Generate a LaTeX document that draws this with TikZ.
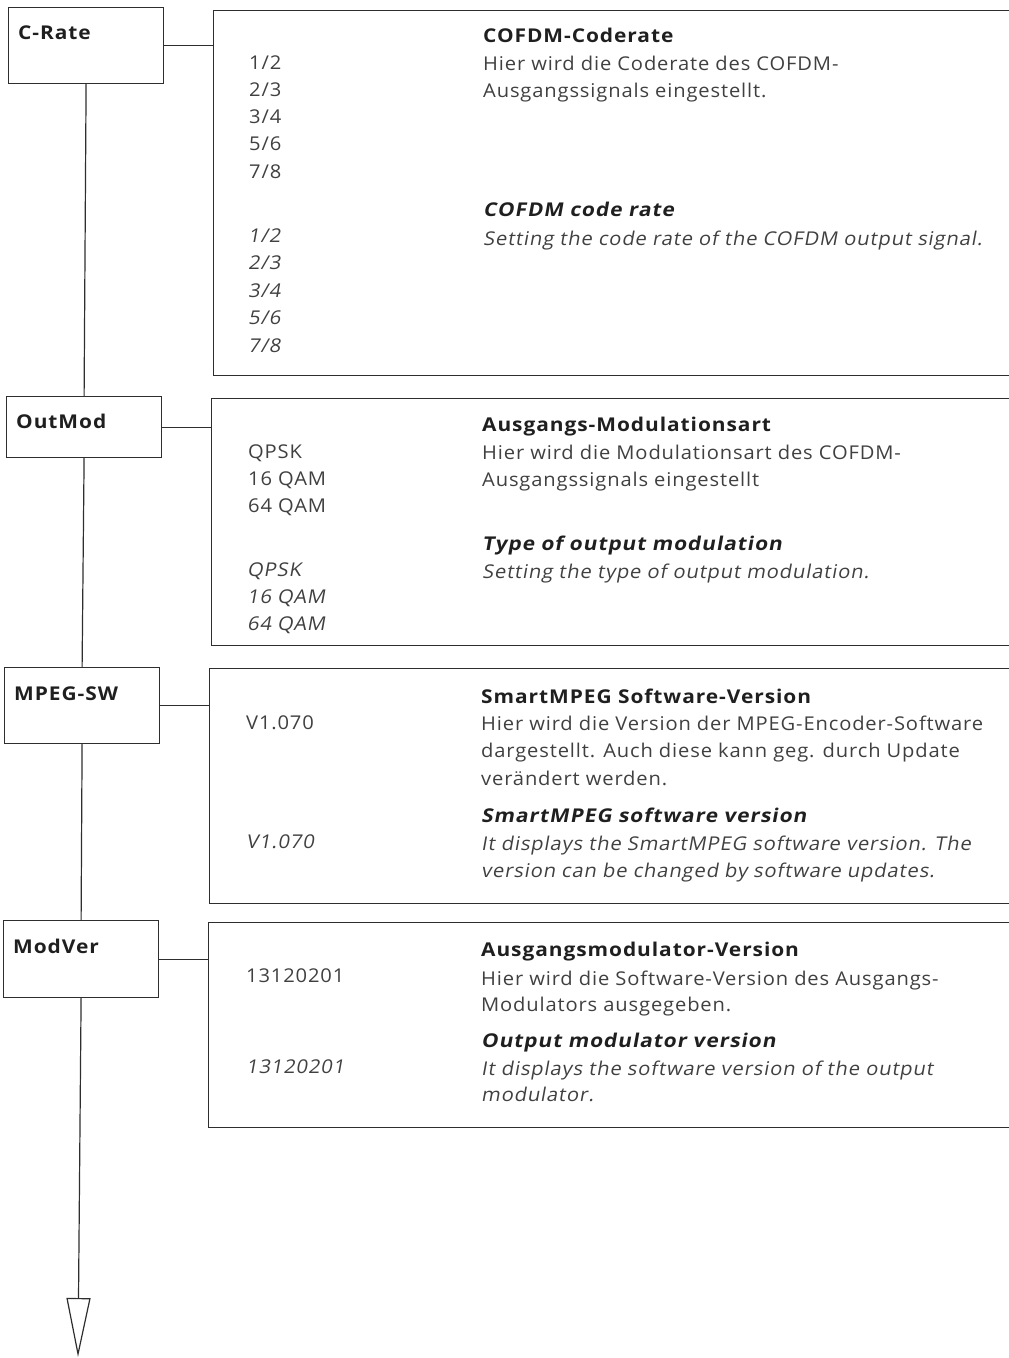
\documentclass[tikz,border=0pt]{standalone}
\usepackage{fontspec}
\setmainfont{Open Sans}[
  FakeStretch=1.06,
  LetterSpace=4.5,
  BoldFeatures={FakeStretch=1.1, LetterSpace=5},
  ItalicFont={Open Sans},
  ItalicFeatures={FakeSlant=0.18},
  BoldItalicFont={Open Sans Bold},
  BoldItalicFeatures={FakeSlant=0.18, FakeStretch=1.1, LetterSpace=5}]
\usetikzlibrary{arrows.meta}
\begin{document}
\begin{tikzpicture}[x=1pt,y=-1pt,
  frame/.style={draw=black!82, line width=1.2pt},
  lbox/.style={frame, anchor=north west, inner sep=0pt, minimum width=155pt},
  rbox/.style={frame, anchor=north west, inner sep=0pt, minimum width=830pt},
  link/.style={draw=black!82, line width=1.2pt},
  txt/.style={anchor=base west, inner sep=0pt, text=black!75, font=\fontsize{19}{23}\selectfont},
  val/.style={txt},
  ival/.style={txt, font=\fontsize{19}{23}\selectfont\itshape},
  ttl/.style={txt, text=black!88, font=\fontsize{19}{23}\selectfont\bfseries},
  ittl/.style={txt, text=black!88, font=\fontsize{19}{23}\selectfont\bfseries\itshape},
  itxt/.style={txt, font=\fontsize{19}{23}\selectfont\itshape},
  lbl/.style={txt, text=black!88, font=\fontsize{19}{23}\selectfont\bfseries},
]
\useasboundingbox (0,0) rectangle (1009,1358);

% ---- menu entries on the left ----
\node[lbox, minimum height=76pt] (crate)  at (8,7)   {};
\node[lbox, minimum height=61pt] (outmod) at (6,396) {};
\node[lbox, minimum height=76pt] (mpegsw) at (4,667) {};
\node[lbox, minimum height=77pt] (modver) at (3,920) {};
\node[lbl] (crate-t)  at (18,39)  {C-Rate};
\node[lbl] (outmod-t) at (16,428) {OutMod};
\node[lbl] (mpegsw-t) at (14,700) {MPEG-SW};
\node[lbl] (modver-t) at (13,953) {ModVer};

% ---- description panels on the right ----
\node[rbox, minimum height=365pt] (p1) at (213,10)  {};
\node[rbox, minimum height=247pt] (p2) at (211,398) {};
\node[rbox, minimum height=235pt] (p3) at (209,668) {};
\node[rbox, minimum height=205pt] (p4) at (208,922) {};

% ---- menu chain and links ----
\coordinate (end) at (78,1357);
\draw[link] (crate.south) -- (outmod.north);
\draw[link] (outmod.south) -- (mpegsw.north);
\draw[link] (mpegsw.south) -- (modver.north);
\draw[link, -{Triangle[open, length=59pt, width=24pt, line width=1.2pt]}] (modver.south) -- (end);
\draw[link] (crate.east)  -- (crate.east -| p1.west);
\draw[link] (outmod.east) -- (outmod.east -| p2.west);
\draw[link] (mpegsw.east) -- (mpegsw.east -| p3.west);
\draw[link] (modver.east) -- (modver.east -| p4.west);

% ---- panel 1: code rate ----
\foreach \t [count=\i] in {1/2,2/3,3/4,5/6,7/8}
  \node[val] (p1v-\i) at (249,{69+(\i-1)*27.3}) {\t};
\node[ttl] (p1t) at (483,42) {COFDM-Coderate};
\foreach \t [count=\i] in {{Hier wird die Coderate des COFDM-},{Ausgangssignals eingestellt.}}
  \node[txt] (p1d-\i) at (483,{70+(\i-1)*27.3}) {\t};
\foreach \t [count=\i] in {1/2,2/3,3/4,5/6,7/8}
  \node[ival] (p1w-\i) at (248,{242+(\i-1)*27.5}) {\t};
\node[ittl] (p1u) at (483,216) {COFDM code rate};
\node[itxt] (p1e) at (483,245) {Setting the code rate of the COFDM output signal.};

% ---- panel 2: output modulation ----
\foreach \t [count=\i] in {QPSK,16 QAM,64 QAM}
  \node[val] (p2v-\i) at (248,{458+(\i-1)*27}) {\t};
\node[ttl] (p2t) at (482,431) {Ausgangs-Modulationsart};
\foreach \t [count=\i] in {{Hier wird die Modulationsart des COFDM-},{Ausgangssignals eingestellt}}
  \node[txt] (p2d-\i) at (482,{459+(\i-1)*27}) {\t};
\foreach \t [count=\i] in {QPSK,16 QAM,64 QAM}
  \node[ival] (p2w-\i) at (247,{576+(\i-1)*27}) {\t};
\node[ittl] (p2u) at (482,550) {Type of output modulation};
\node[itxt] (p2e) at (482,578) {Setting the type of output modulation.};

% ---- panel 3: SmartMPEG software ----
\node[val] (p3v) at (246,729) {V1.070};
\node[ttl] (p3t) at (481,703) {SmartMPEG Software-Version};
\foreach \t [count=\i] in {{Hier wird die Version der MPEG-Encoder-Software},{dargestellt. Auch diese kann geg. durch Update},{verändert werden.}}
  \node[txt] (p3d-\i) at (481,{730+(\i-1)*27.5}) {\t};
\node[ival] (p3w) at (246,848) {V1.070};
\node[ittl] (p3u) at (481,822) {SmartMPEG software version};
\foreach \t [count=\i] in {{It displays the SmartMPEG software version. The},{version can be changed by software updates.}}
  \node[itxt] (p3e-\i) at (481,{850+(\i-1)*27}) {\t};

% ---- panel 4: output modulator ----
\node[val] (p4v) at (246,982) {13120201};
\node[ttl] (p4t) at (481,956) {Ausgangsmodulator-Version};
\foreach \t [count=\i] in {{Hier wird die Software-Version des Ausgangs-},{Modulators ausgegeben.}}
  \node[txt] (p4d-\i) at (481,{985+(\i-1)*26}) {\t};
\node[ival] (p4w) at (246,1073) {13120201};
\node[ittl] (p4u) at (481,1047) {Output modulator version};
\foreach \t [count=\i] in {{It displays the software version of the output},{modulator.}}
  \node[itxt] (p4e-\i) at (481,{1075+(\i-1)*26}) {\t};
\end{tikzpicture}
\end{document}
